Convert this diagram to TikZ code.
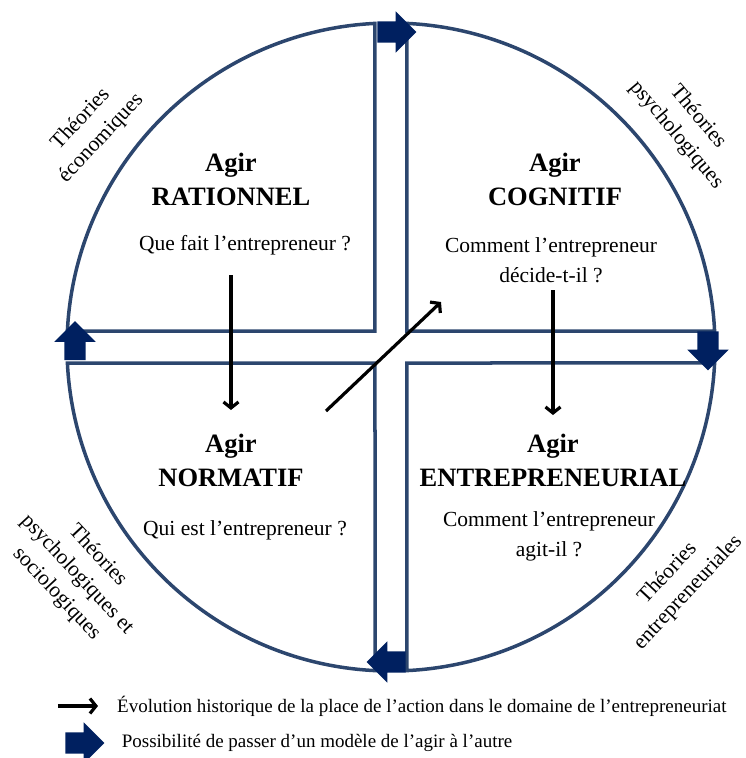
\documentclass[tikz,border=0pt]{standalone}
\usepackage{fontspec}
\setmainfont{Liberation Serif}
\usepackage{tikz}
\usetikzlibrary{shapes,arrows,arrows.meta}
\usetikzlibrary{positioning}
\definecolor{ringblue}{RGB}{44,70,110}
\definecolor{navyblue}{RGB}{0,32,96}
\tikzstyle{arrow} = [-{Straight Barb[length=6pt,width=15pt]}, line width=3.2pt]
\tikzstyle{quadline} = [draw=ringblue, line width=3.5pt]
\tikzstyle{titlebox} = [align=center, font=\bfseries\fontsize{26.5}{34}\selectfont]
\tikzstyle{askbox} = [align=center, font=\fontsize{21.5}{30}\selectfont]
\tikzstyle{theorybox} = [align=center, font=\fontsize{21.5}{28}\selectfont]
\tikzstyle{legendtext} = [inner sep=0pt, font=\fontsize{19}{22}\selectfont]
\tikzstyle{bigarrow} = [single arrow, fill=navyblue, inner xsep=0pt, inner ysep=10.5pt,
   single arrow head extend=10pt, minimum width=41pt, minimum height=39pt]

\begin{document}
\begin{tikzpicture}[x=1pt,y=1pt]

\useasboundingbox (-391,-411) rectangle (354,347);

% the four quarters
\draw [quadline] (-16,16) -- (-16,323.6) arc (92.83:177.17:324) -- cycle;
\draw [quadline] (16,16) -- (323.6,16) arc (2.83:87.17:324) -- cycle;
\draw [quadline] (16,-16) -- (16,-323.6) arc (-87.17:-2.83:324) -- cycle;
\draw [quadline] (-16,-16) -- (-323.6,-16) arc (-177.17:-92.83:324) -- cycle;

\node (b1) [bigarrow] at (0.5,315) {};
\node (b2) [bigarrow, rotate=90] at (-316,1) {};
\node (b3) [bigarrow, rotate=-90] at (317,1.5) {};
\node (b4) [bigarrow, rotate=180] at (0.5,-315) {};

\node (t1) [titlebox] at (-160,168) {Agir\\RATIONNEL};
\node (q1) [askbox] at (-146,102) {Que fait l’entrepreneur ?};

\node (t2) [titlebox] at (164,168) {Agir\\COGNITIF};
\node (q2) [askbox] at (160,87) {Comment l’entrepreneur\\décide-t-il ?};

\node (t3) [titlebox] at (-160,-113) {Agir\\NORMATIF};
\node (q3) [askbox] at (-146,-183) {Qui est l’entrepreneur ?};

\node (t4) [titlebox] at (162,-113) {Agir\\ENTREPRENEURIAL};
\node (q4) [askbox] at (158,-189) {Comment l’entrepreneur\\agit-il ?};

\node (th1) [theorybox, rotate=47] at (-300,218) {Théories\\économiques};
\node (th2) [theorybox, rotate=-50] at (296,221) {Théories\\psychologiques};
\node (th3) [theorybox, rotate=-47] at (-314,-228) {Théories\\psychologiques et\\sociologiques};
\node (th4) [theorybox, rotate=47] at (287,-236) {Théories\\entrepreneuriales};

\coordinate (r1) at (-160,72);
\coordinate (r2) at (-160,-63);
\coordinate (r3) at (162,57);
\coordinate (r4) at (162,-68);
\coordinate (r5) at (-65,-64);
\coordinate (r6) at (50,45);

\draw [arrow] (r1) -- (r2);
\draw [arrow] (r3) -- (r4);
\draw [arrow] (r5) -- (r6);

% legend
\coordinate (k1) at (-333,-359);
\coordinate (k2) at (-293,-359);
\draw [arrow] (k1) -- (k2);
\node (l1) [legendtext, right=19pt of k2] {Évolution historique de la place de l’action dans le domaine de l’entrepreneuriat};

\node (b5) [bigarrow] at (-311.5,-396) {};
\node (l2) [legendtext, right=17pt of b5] {Possibilité de passer d’un modèle de l’agir à l’autre};

\end{tikzpicture}
\end{document}
